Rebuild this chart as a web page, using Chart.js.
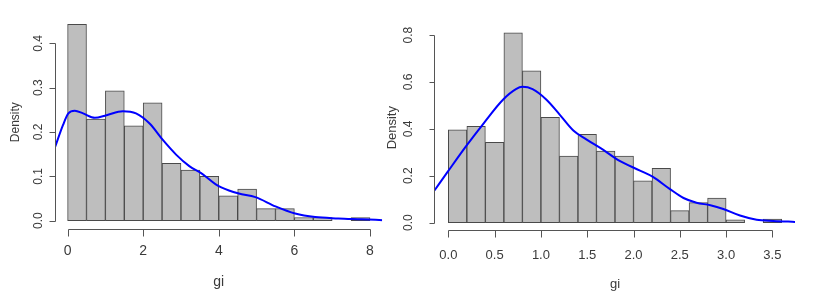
<!DOCTYPE html>
<html>
<head>
<meta charset="utf-8">
<script src="https://cdn.jsdelivr.net/npm/chart.js@4/dist/chart.umd.min.js"></script>
<style>
    body { margin: 0; background: #fff; }
    canvas { position: absolute; top: 0; }
    #left { left: 0; }
    #right { left: 378px; }
</style>
</head>
<body>
<canvas id="left" width="388" height="303"></canvas>
<canvas id="right" width="436" height="303"></canvas>
<script>
var leftBreaks = [0, 0.5, 1, 1.5, 2, 2.5, 3, 3.5, 4, 4.5, 5, 5.5, 6, 6.5, 7, 7.5, 8];
var leftDensity = [0.443, 0.229, 0.293, 0.214, 0.266, 0.129, 0.114, 0.100, 0.056, 0.071, 0.027, 0.027, 0.007, 0.007, 0, 0.007];
var leftCurveX = [-0.34, -0.12, 0.02, 0.19, 0.41, 0.72, 1.03, 1.46, 1.81, 2.17, 2.52, 2.87, 3.22, 3.57, 3.92, 4.27, 4.53, 4.97, 5.5, 6.02, 6.55, 7.16, 7.77, 8.34];
var leftCurveY = [0.164, 0.216, 0.242, 0.248, 0.242, 0.232, 0.238, 0.247, 0.242, 0.219, 0.182, 0.149, 0.123, 0.105, 0.082, 0.068, 0.061, 0.053, 0.032, 0.016, 0.008, 0.005, 0.003, 0.001];
var leftXTicks = [0, 2, 4, 6, 8];
var leftYTicks = [0, 0.1, 0.2, 0.3, 0.4];

var rightBreaks = [0, 0.2, 0.4, 0.6, 0.8, 1.0, 1.2, 1.4, 1.6, 1.8, 2.0, 2.2, 2.4, 2.6, 2.8, 3.0, 3.2, 3.4, 3.6];
var rightDensity = [0.396, 0.411, 0.342, 0.809, 0.647, 0.449, 0.284, 0.377, 0.305, 0.284, 0.178, 0.232, 0.051, 0.085, 0.105, 0.012, 0, 0.015];
var rightCurveX = [-0.15, -0.01, 0.19, 0.39, 0.59, 0.73, 0.80, 0.91, 1.06, 1.20, 1.35, 1.49, 1.67, 1.85, 2.07, 2.21, 2.39, 2.54, 2.68, 2.83, 2.97, 3.15, 3.33, 3.51, 3.75];
var rightCurveY = [0.137, 0.215, 0.325, 0.428, 0.524, 0.569, 0.579, 0.569, 0.524, 0.462, 0.393, 0.355, 0.311, 0.263, 0.222, 0.195, 0.144, 0.105, 0.085, 0.074, 0.058, 0.030, 0.012, 0.007, 0.003];
var rightXTicks = [0, 0.5, 1.0, 1.5, 2.0, 2.5, 3.0, 3.5];
var rightYTicks = [0, 0.2, 0.4, 0.6, 0.8];

var textColor = '#3a3a3a';
var narrow = '"Liberation Sans Narrow", "Arial Narrow", "Liberation Sans", Arial, sans-serif';
var regular = '"Liberation Sans", Arial, sans-serif';

// R style axes: line from first to last tick, ticks pointing outward
var rAxes = {
    id: 'rAxes',
    afterDraw: function (chart, args, opts) {
        var ctx = chart.ctx;
        var area = chart.chartArea;
        var xs = chart.scales.x;
        var ys = chart.scales.y;
        ctx.save();
        ctx.strokeStyle = '#555';
        ctx.lineWidth = 1;

        var xp = xs.ticks.map(function (t) { return Math.round(xs.getPixelForValue(t.value)) + 0.5; });
        var by = Math.round(area.bottom) + 0.5;
        ctx.beginPath();
        ctx.moveTo(xp[0], by);
        ctx.lineTo(xp[xp.length - 1], by);
        xp.forEach(function (x) {
            ctx.moveTo(x, by);
            ctx.lineTo(x, by + opts.xTick);
        });
        ctx.stroke();

        var yp = ys.ticks.map(function (t) { return Math.round(ys.getPixelForValue(t.value)) + 0.5; });
        var lx = Math.round(area.left) - 0.5;
        ctx.beginPath();
        ctx.moveTo(lx, yp[0]);
        ctx.lineTo(lx, yp[yp.length - 1]);
        yp.forEach(function (y) {
            ctx.moveTo(lx, y);
            ctx.lineTo(lx - opts.yTick, y);
        });
        ctx.stroke();
        ctx.restore();
    }
};

function makeHist(id, h) {
    var bars = [];
    for (var i = 0; i < h.density.length; i++) {
        bars.push({ x: (h.breaks[i] + h.breaks[i + 1]) / 2, y: h.density[i] });
    }
    var curve = h.curveX.map(function (x, i) { return { x: x, y: h.curveY[i] }; });

    return new Chart(document.getElementById(id), {
        type: 'bar',
        data: {
            datasets: [{
                type: 'line',
                data: curve,
                borderColor: '#0000ff',
                borderWidth: 2,
                pointRadius: 0,
                fill: false,
                cubicInterpolationMode: 'monotone'
            }, {
                type: 'bar',
                data: bars,
                backgroundColor: '#bebebe',
                borderColor: '#4a4a4a',
                borderWidth: 1,
                borderSkipped: false,
                barPercentage: 1,
                categoryPercentage: 1
            }]
        },
        options: {
            responsive: false,
            animation: false,
            layout: { padding: h.padding },
            plugins: {
                legend: { display: false },
                tooltip: { enabled: false },
                rAxes: { xTick: h.xTick, yTick: h.yTick }
            },
            scales: {
                x: {
                    type: 'linear',
                    offset: false,
                    min: h.xMin,
                    max: h.xMax,
                    grid: { display: false, drawTicks: false },
                    border: { display: false },
                    afterBuildTicks: function (s) { s.ticks = h.xTicks.map(function (v) { return { value: v }; }); },
                    afterFit: function (s) { s.height = h.xHeight; },
                    ticks: {
                        padding: h.xPad,
                        maxRotation: 0,
                        color: textColor,
                        font: { family: narrow, size: h.xFont },
                        callback: function (v) { return h.xFmt(v); }
                    },
                    title: {
                        display: true,
                        text: 'gi',
                        color: textColor,
                        font: { family: narrow, size: h.xFont },
                        padding: { bottom: h.giPad }
                    }
                },
                y: {
                    type: 'linear',
                    min: h.yMin,
                    max: h.yMax,
                    grid: { display: false, drawTicks: false },
                    border: { display: false },
                    afterBuildTicks: function (s) { s.ticks = h.yTicks.map(function (v) { return { value: v }; }); },
                    afterFit: function (s) { s.width = h.yWidth; },
                    ticks: {
                        padding: h.yPad,
                        minRotation: 90,
                        maxRotation: 90,
                        crossAlign: 'center',
                        color: textColor,
                        font: { family: regular, size: 12 },
                        callback: function (v) { return v.toFixed(1); }
                    },
                    title: {
                        display: true,
                        text: 'Density',
                        color: textColor,
                        font: { family: regular, size: h.densFont },
                        padding: { top: h.densPad }
                    }
                }
            }
        },
        plugins: [rAxes]
    });
}

makeHist('left', {
    breaks: leftBreaks, density: leftDensity, curveX: leftCurveX, curveY: leftCurveY,
    xTicks: leftXTicks, yTicks: leftYTicks,
    xMin: -0.32, xMax: 8.32, yMin: -0.0178, yMax: 0.462,
    padding: { left: 0, right: 4, top: 12.5, bottom: 0 },
    xHeight: 74.5, yWidth: 55.5,
    xPad: 14, yPad: 8.7, giPad: 12.3, densPad: 8.8,
    xFont: 14, densFont: 12, xTick: 7, yTick: 6,
    xFmt: function (v) { return String(v); }
});

makeHist('right', {
    breaks: rightBreaks, density: rightDensity, curveX: rightCurveX, curveY: rightCurveY,
    xTicks: rightXTicks, yTicks: rightYTicks,
    xMin: -0.144, xMax: 3.744, yMin: -0.0324, yMax: 0.842,
    padding: { left: 0, right: 19, top: 17.7, bottom: 0 },
    xHeight: 72.8, yWidth: 57,
    xPad: 17.6, yPad: 18, giPad: 10.8, densPad: 6.5,
    xFont: 13, densFont: 13, xTick: 7, yTick: 5,
    xFmt: function (v) { return v.toFixed(1); }
});
</script>
</body>
</html>
